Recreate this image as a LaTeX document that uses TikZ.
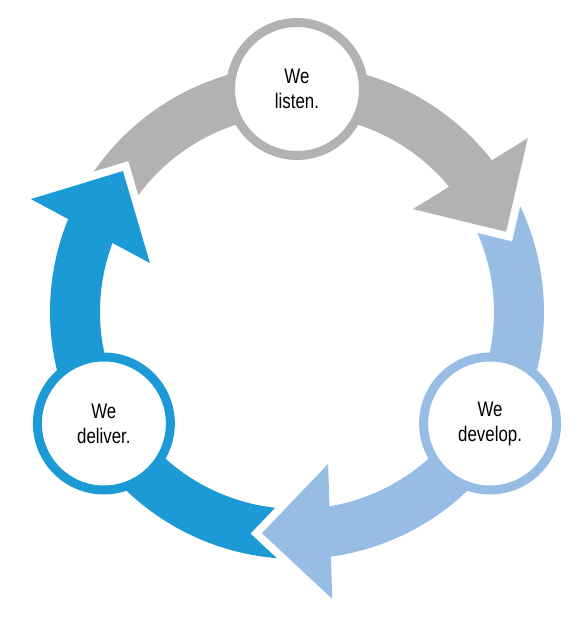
\documentclass[tikz,border=0pt]{standalone}
\usepackage{fontspec}
\newfontfamily\stepfont[FakeStretch=0.8]{Liberation Sans}
\usetikzlibrary{positioning}
\definecolor{listengray}{HTML}{B2B2B2}
\definecolor{developblue}{HTML}{97BDE5}
\definecolor{deliverblue}{HTML}{1C9AD6}
\tikzset{
  stage/.style={
    shape = circle,
    draw,
    fill = white,
    line width = 5.1pt,
    minimum size = 2.66cm,
    inner sep = 0pt,
    align = center,
    font = \stepfont\fontsize{12}{14.2}\selectfont
  },
  gap/.style={
    draw = white,
    line width = 9pt,
    line join = miter,
    miter limit = 10
  },
}

\begin{document}
\begin{tikzpicture}[x=0.02cm, y=0.02cm]
  \useasboundingbox (-297,-325) rectangle (288,312);
  % ring segments
  \foreach \turn/\col in {0/listengray, -120/developblue, 120/deliverblue}
    \fill[\col, rotate=\turn] (150:247) arc[start angle=150, end angle=36, radius=247]
      -- (36:197) arc[start angle=36, end angle=150, radius=197] -- cycle;
  % arrow heads, cut into the next segment
  \foreach \turn/\col in {0/listengray, -120/developblue, 120/deliverblue} {
    \draw[gap, rotate=\turn] (37:289) -- (21:224) -- (41.6:155);
    \fill[\col, rotate=\turn] (37:289) -- (21:224) -- (41.6:155) -- cycle;
  }
  \node[stage, draw=listengray] (listen) at (90:223) {We\\listen.};
  \node[stage, draw=developblue] (develop) at (-30:223) {We\\develop.};
  \node[stage, draw=deliverblue] (deliver) at (210:223) {We\\deliver.};
\end{tikzpicture}
\end{document}
